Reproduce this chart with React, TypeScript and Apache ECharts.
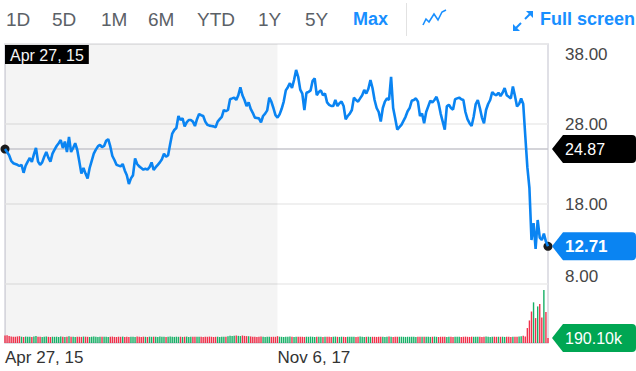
import React, { useEffect, useRef } from 'react';
import * as echarts from 'echarts';

// ---------- data ----------
const xTickDates = ['2015-04-27', '2017-11-06'];
const xTickLabels = ['Apr 27, 15', 'Nov 6, 17'];
const shadeRange = ['2015-04-27', '2017-11-06'];
const priceMin = 8;
const priceMax = 38;
const priceStep = 10;
const volumeMax = 2250;
const prevClose = 24.87;
const lastVolumeLabel = '190.10k';
const rangeButtons = ['1D', '5D', '1M', '6M', 'YTD', '1Y', '5Y'];
const activeRange = 'Max';
const fullScreenText = 'Full screen';

// weekly closes
const closePrices = [
  24.87, 24.5, 24.1, 23.4, 23.1, 23.0, 22.9, 22.75, 22.9, 21.9, 22.8, 23.3,
  23.75, 23.25, 24.2, 25.0, 23.3, 22.9, 23.2, 23.9, 24.5, 23.8, 23.3, 24.3,
  24.8, 25.25, 25.6, 26.0, 25.0, 25.8, 24.5, 26.4, 24.5, 25.0, 25.6, 24.75,
  23.3, 21.8, 22.5, 21.8, 21.2, 22.5, 23.4, 24.3, 24.8, 25.2, 25.4, 25.1,
  25.25, 25.9, 26.1, 25.2, 24.0, 23.5, 22.9, 22.8, 22.7, 23.0, 22.2, 21.6,
  20.5, 21.2, 21.6, 23.7, 23.0, 22.7, 22.5, 22.3, 22.4, 22.3, 22.6, 23.2,
  22.25, 22.6, 22.9, 23.2, 23.6, 24.3, 23.9, 24.1, 25.5, 26.8, 27.25, 27.5,
  29.0, 28.5, 28.7, 27.7, 28.2, 28.5, 28.5, 28.3, 27.75, 28.6, 29.25, 29.1,
  29.0, 28.3, 27.9, 27.8, 27.75, 27.7, 27.6, 28.3, 28.6, 28.9, 29.75, 29.6,
  29.75, 31.1, 31.2, 31.3, 31.0, 31.6, 32.6, 31.6, 31.0, 30.25, 30.7, 29.9,
  29.4, 28.8, 28.75, 28.7, 28.2, 29.0, 29.3, 29.7, 31.3, 30.8, 30.0, 29.1,
  28.8, 29.2, 29.9, 30.8, 32.2, 32.6, 33.1, 32.5, 33.5, 34.75, 33.9, 32.3,
  31.8, 29.75, 31.9, 32.0, 32.2, 33.4, 33.7, 31.6, 32.0, 32.2, 31.6, 31.8,
  30.7, 30.4, 30.25, 30.25, 31.0, 30.25, 30.6, 30.8, 30.25, 28.6, 29.0, 29.3,
  29.75, 31.3, 31.0, 30.8, 31.2, 31.6, 32.25, 31.8, 32.4, 33.5, 32.5, 31.0,
  30.0, 29.5, 28.3, 30.0, 30.8, 31.2, 31.0, 33.9, 30.0, 28.7, 27.3, 27.6,
  27.9, 28.4, 28.9, 29.6, 30.0, 30.9, 31.0, 31.2, 30.8, 29.0, 29.3, 28.1,
  29.5, 30.2, 30.9, 30.7, 31.0, 31.4, 30.6, 29.3, 28.3, 27.3, 30.2, 30.4,
  30.0, 29.8, 31.1, 31.2, 31.3, 31.1, 31.0, 29.5, 28.6, 28.1, 27.75, 28.9,
  30.5, 31.0, 30.0, 28.8, 28.1, 29.75, 30.5, 31.0, 32.0, 31.7, 31.6, 31.9,
  31.5, 31.9, 32.5, 31.6, 31.4, 31.2, 32.7, 31.5, 30.2, 30.5, 31.2, 30.5,
  26.5, 22.6, 20.0, 13.5, 15.6, 12.4, 16.0, 13.8, 13.5, 14.3, 13.3, 12.71,
];

// weekly volume, thousands
const volumesK = [
  285, 300, 270, 250, 240, 235, 250, 260, 240, 230, 245, 235,
  240, 230, 250, 265, 240, 235, 230, 240, 250, 235, 228, 240,
  235, 240, 230, 245, 238, 232, 240, 255, 240, 236, 230, 242,
  238, 232, 245, 240, 236, 228, 240, 248, 236, 230, 240, 234,
  242, 236, 230, 238, 245, 232, 228, 240, 236, 244, 232, 238,
  230, 236, 240, 228, 245, 238, 232, 240, 236, 230, 242, 236,
  240, 234, 230, 245, 238, 236, 230, 242, 250, 236, 232, 240,
  236, 240, 232, 238, 244, 230, 236, 240, 234, 238, 242, 236,
  232, 240, 236, 244, 238, 230, 236, 240, 232, 236, 242, 238,
  262, 275, 268, 280, 290, 272, 265, 285, 270, 262, 258, 250,
  236, 240, 232, 236, 244, 238, 230, 236, 240, 234, 238, 236,
  260, 240, 236, 232, 240, 236, 244, 238, 232, 236, 240, 236,
  238, 232, 240, 236, 244, 238, 230, 236, 240, 236, 232, 238,
  240, 236, 230, 238, 244, 236, 232, 240, 236, 230, 238, 242,
  236, 240, 232, 236, 244, 238, 230, 236, 240, 234, 238, 236,
  232, 238, 240, 236, 230, 238, 244, 236, 232, 240, 236, 238,
  240, 236, 232, 238, 236, 242, 238, 230, 236, 240, 234, 238,
  236, 240, 232, 238, 244, 236, 230, 238, 240, 236, 232, 238,
  236, 232, 240, 238, 236, 230, 238, 242, 236, 232, 240, 236,
  238, 236, 240, 232, 236, 244, 238, 230, 236, 240, 236, 238,
  236, 240, 232, 238, 236, 230, 238, 236, 240, 250, 260, 280,
  250, 570, 860, 1200, 1550, 950, 1395, 1485, 975, 2020, 1180, 190.1,
];

// ---------- styles ----------
const FONT = '"Liberation Sans", Arial, Helvetica, sans-serif';
const BLUE = '#0a84f2';
const UP = '#17b066';
const DOWN = '#f0304a';
const SHADE = 'rgba(0,0,0,0.045)';
const TAG_PATH = 'path://M0,14 L11,0 L80,0 Q84,0 84,4 L84,24 Q84,28 80,28 L11,28 Z';
const buttonX = [6, 52, 101, 148, 197, 258, 305];

const categories: string[] = closePrices.map((_, i) =>
  new Date(Date.UTC(2015, 3, 27) + i * 7 * 86400000).toISOString().slice(0, 10)
);

export default function App() {
  const ref = useRef<HTMLDivElement>(null);

  useEffect(() => {
    if (!ref.current) return;
    const chart = echarts.init(ref.current, undefined, { renderer: 'svg' });
    const last = categories.length - 1;
    const lastPrice = closePrices[last];

    const volumeData = volumesK.map((v, i) => ({
      value: v,
      itemStyle: { color: i > 0 && closePrices[i] >= closePrices[i - 1] ? UP : DOWN },
    }));

    const tagLabel = (fontWeight: string) => ({
      show: true,
      position: [13, 14],
      align: 'left',
      verticalAlign: 'middle',
      color: '#fff',
      fontSize: 16,
      fontFamily: FONT,
      fontWeight,
    });

    const xLabelFormatter = (value: string) => {
      const k = xTickDates.indexOf(value);
      return k >= 0 ? xTickLabels[k] : '';
    };

    const graphic: any[] = [
      ...rangeButtons.map((t, i) => ({
        type: 'text',
        x: buttonX[i],
        y: 19,
        style: { text: t, fill: '#5b6167', font: `19px ${FONT}`, textVerticalAlign: 'middle' },
      })),
      {
        type: 'text',
        x: 353,
        y: 19,
        style: { text: activeRange, fill: '#188fff', font: `bold 18px ${FONT}`, textVerticalAlign: 'middle' },
      },
      { type: 'line', shape: { x1: 406.5, y1: 3, x2: 406.5, y2: 36 }, style: { stroke: '#e2e2e2', lineWidth: 1 } },
      {
        type: 'polyline',
        shape: { points: [[423, 25], [426, 19], [429, 22], [434, 14], [438, 20], [442, 12], [446, 10]] },
        style: { stroke: '#188fff', lineWidth: 1.6, fill: 'none' },
      },
      { type: 'line', shape: { x1: 515, y1: 29, x2: 521, y2: 23 }, style: { stroke: '#188fff', lineWidth: 2 } },
      { type: 'line', shape: { x1: 525, y1: 19, x2: 531, y2: 13 }, style: { stroke: '#188fff', lineWidth: 2 } },
      { type: 'polygon', shape: { points: [[513, 31], [513, 24], [520, 31]] }, style: { fill: '#188fff' } },
      { type: 'polygon', shape: { points: [[533, 11], [526, 11], [533, 18]] }, style: { fill: '#188fff' } },
      {
        type: 'text',
        x: 540,
        y: 19,
        style: { text: fullScreenText, fill: '#188fff', font: `bold 18px ${FONT}`, textVerticalAlign: 'middle' },
      },
    ];

    chart.setOption({
      animation: false,
      textStyle: { fontFamily: FONT },
      graphic,
      grid: [
        { left: 5, right: 88, top: 44, height: 240, containLabel: false },
        { left: 5, right: 88, top: 284, height: 59, containLabel: false },
        {
          left: 5, right: 88, top: 44, height: 299, show: true,
          borderColor: '#d6d6de', borderWidth: 1.5, backgroundColor: 'transparent',
        },
      ],
      xAxis: [
        {
          type: 'category', gridIndex: 0, data: categories, boundaryGap: false,
          axisLine: { show: false }, axisTick: { show: false }, axisLabel: { show: false },
          splitLine: { show: false },
        },
        {
          type: 'category', gridIndex: 1, data: categories, boundaryGap: false, position: 'bottom',
          axisLine: { show: false }, axisTick: { show: false }, splitLine: { show: false },
          axisLabel: {
            interval: (_i: number, v: string) => xTickDates.includes(v),
            formatter: xLabelFormatter,
            align: 'left', color: '#333', fontSize: 17, fontFamily: FONT, margin: 6,
          },
        },
        {
          type: 'category', gridIndex: 0, data: categories, boundaryGap: false, position: 'top',
          axisLine: { show: false }, axisTick: { show: false }, splitLine: { show: false },
          axisLabel: {
            inside: true,
            interval: (i: number) => i === 0,
            formatter: xLabelFormatter,
            align: 'left', color: '#fff', backgroundColor: '#000',
            padding: [2, 5, 1, 5], fontSize: 16, fontFamily: FONT, margin: 1,
          },
        },
      ],
      yAxis: [
        {
          type: 'value', gridIndex: 0, position: 'right', min: priceMin, max: priceMax, interval: priceStep,
          axisLine: { show: false }, axisTick: { show: false },
          splitLine: { lineStyle: { color: '#ebebeb', width: 1.5 } },
          axisLabel: {
            margin: 17,
            formatter: (v: number) => {
              const s = v.toFixed(2);
              if (v === priceMax) return `{t|${s}}`;
              if (v === priceMin) return `{b|${s}}`;
              return `{m|${s}}`;
            },
            rich: {
              t: { padding: [20, 0, 0, 0], fontSize: 17, color: '#464646', fontFamily: FONT },
              b: { padding: [0, 0, 16, 0], fontSize: 17, color: '#464646', fontFamily: FONT },
              m: { fontSize: 17, color: '#464646', fontFamily: FONT },
            },
          },
        },
        {
          type: 'value', gridIndex: 1, min: 0, max: volumeMax,
          axisLine: { show: false }, axisTick: { show: false }, axisLabel: { show: false },
          splitLine: { show: false },
        },
      ],
      series: [
        {
          type: 'line',
          xAxisIndex: 0,
          yAxisIndex: 0,
          data: closePrices,
          showSymbol: false,
          symbol: 'none',
          lineStyle: { color: BLUE, width: 2.6 },
          z: 5,
          markArea: {
            silent: true,
            itemStyle: { color: SHADE },
            data: [[{ xAxis: shadeRange[0], yAxis: priceMin }, { xAxis: shadeRange[1], yAxis: priceMax }]],
          },
          markLine: {
            silent: true,
            symbol: ['none', 'none'],
            label: { show: false },
            lineStyle: { color: '#c6c6cd', type: 'solid', width: 1.5 },
            data: [{ yAxis: prevClose }],
          },
          markPoint: {
            silent: true,
            data: [
              {
                coord: [categories[0], prevClose], symbol: 'circle', symbolSize: 9,
                itemStyle: { color: '#1c1c1c' }, label: { show: false },
              },
              {
                coord: [categories[last], lastPrice], symbol: 'circle', symbolSize: 9,
                itemStyle: { color: '#1c1c1c' }, label: { show: false },
              },
              {
                coord: [categories[last], prevClose], value: prevClose,
                symbol: TAG_PATH, symbolSize: [84, 28], symbolOffset: [46, 0],
                itemStyle: { color: '#000' },
                label: { ...tagLabel('normal'), formatter: () => prevClose.toFixed(2) },
              },
              {
                coord: [categories[last], lastPrice], value: lastPrice,
                symbol: TAG_PATH, symbolSize: [84, 28], symbolOffset: [46, 0],
                itemStyle: { color: BLUE },
                label: { ...tagLabel('bold'), fontSize: 17, formatter: () => lastPrice.toFixed(2) },
              },
            ],
          },
        },
        {
          // carrier for the shaded history band in the volume pane
          type: 'line',
          xAxisIndex: 1,
          yAxisIndex: 1,
          data: [],
          symbol: 'none',
          lineStyle: { width: 0 },
          markArea: {
            silent: true,
            itemStyle: { color: SHADE },
            data: [[{ xAxis: shadeRange[0], yAxis: 0 }, { xAxis: shadeRange[1], yAxis: volumeMax }]],
          },
        },
        {
          type: 'bar',
          xAxisIndex: 1,
          yAxisIndex: 1,
          data: volumeData,
          barWidth: 1.4,
          markPoint: {
            silent: true,
            data: [
              {
                coord: [categories[last], volumesK[last]], value: volumesK[last],
                symbol: TAG_PATH, symbolSize: [84, 28], symbolOffset: [46, 0],
                itemStyle: { color: '#00a653' },
                label: { ...tagLabel('normal'), formatter: () => lastVolumeLabel },
              },
            ],
          },
        },
      ],
    });

    return () => chart.dispose();
  }, []);

  return (
    <div
      ref={ref}
      style={{ position: 'fixed', left: 0, top: 0, width: 636, height: 371, background: '#fff' }}
    />
  );
}
